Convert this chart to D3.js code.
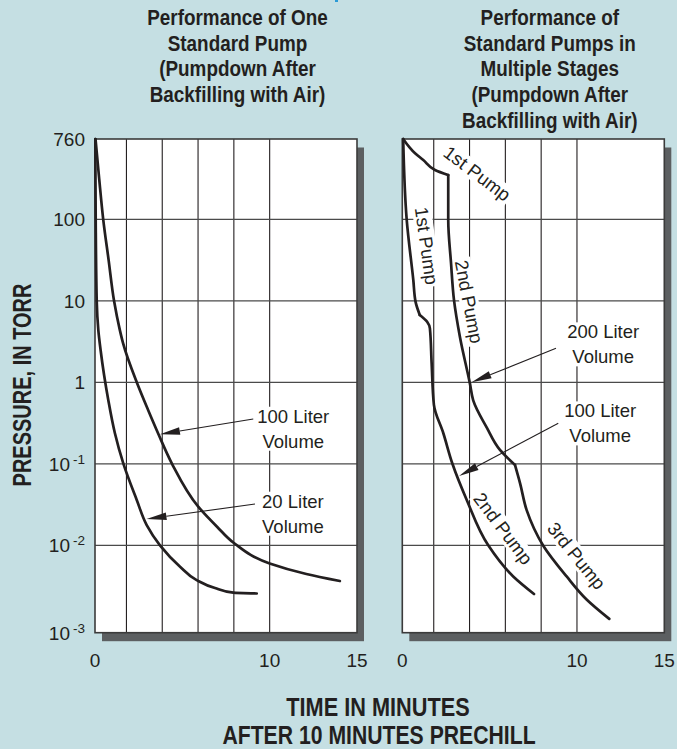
<!DOCTYPE html>
<html>
<head>
<meta charset="utf-8">
<script src="https://cdn.jsdelivr.net/npm/d3@7"></script>
<style>
  body { margin: 0; background: #c5dfe3; }
  svg { display: block; }
  text { font-family: "Liberation Sans", Arial, sans-serif; fill: #231f20; }
</style>
</head>
<body>
<svg width="677" height="749"></svg>
<script>
// ---- data ----
var timeTicks = [0, 10, 15];
var timeGrid = [1.8, 3.85, 5.9, 7.95, 10];
var pressureGrid = [100, 10, 1, 0.1, 0.01];
var pressureTicks = [760, 100, 10, 1, 0.1, 0.01, 0.001];
var pressureLabels = [["760"], ["100"], ["10"], ["1"], ["10", "-1"], ["10", "-2"], ["10", "-3"]];

var titleLeft = ["Performance of One", "Standard Pump", "(Pumpdown After", "Backfilling with Air)"];
var titleRight = ["Performance of", "Standard Pumps in", "Multiple Stages", "(Pumpdown After", "Backfilling with Air)"];

// left panel: one standard pump  [minutes, torr]
var oneStd20 = [[0.02, 760], [0.04, 100], [0.1, 9.75], [0.19, 4.38], [0.32, 2.49], [0.52, 1.23], [0.76, 0.607],
  [1.14, 0.237], [1.62, 0.101], [2.39, 0.036], [2.96, 0.0177], [3.72, 0.01], [4.87, 0.0057], [5.82, 0.004],
  [6.87, 0.00324], [7.92, 0.00287], [9.26, 0.00281]];
var oneStd100 = [[0.03, 760], [0.24, 277], [0.47, 100], [0.78, 31.6], [1.09, 10], [1.42, 4.4], [1.61, 3.0], [2.39, 1],
  [3.04, 0.457], [3.61, 0.237], [4.41, 0.1], [5.91, 0.0298], [7.0, 0.0168], [7.97, 0.0106], [10.0, 0.0062],
  [12.1, 0.0047], [14.02, 0.0039]];

// right panel: pumps in stages
var multi200Stage1 = [[0.05, 760], [0.73, 530], [1.2, 447], [1.87, 348], [2.63, 306]];
var multi200Stage2 = [[2.63, 306], [2.63, 98], [2.79, 29], [2.96, 10.2], [3.3, 3.6], [3.87, 0.97], [4.06, 0.6],
  [4.83, 0.28], [5.59, 0.148], [6.45, 0.097]];
var multi200Stage3 = [[6.45, 0.097], [6.74, 0.058], [7.12, 0.027], [8.07, 0.0099], [9.41, 0.0044], [10.55, 0.0024], [11.85, 0.00144]];
var multi100Stage1 = [[0.05, 760], [0.25, 100], [0.63, 18], [0.76, 9.7], [1.0, 6.7]];
var multi100Stage2 = [[1.0, 6.7], [1.43, 5.5], [1.58, 4.6], [1.68, 1.71], [1.81, 0.53], [2.35, 0.237], [2.87, 0.1],
  [3.69, 0.036], [4.92, 0.01], [6.35, 0.0044], [7.54, 0.00277]];

// annotations  [minutes, torr]
var leftVolumeLabels = [{at: [11.35, 0.27], lines: ["100 Liter", "Volume"]}, {at: [11.33, 0.0245], lines: ["20 Liter", "Volume"]}];
var leftArrows = [[[9.06, 0.355], [3.72, 0.23]], [[9.16, 0.0321], [2.95, 0.021]]];
var rightVolumeLabels = [{at: [11.5, 2.93], lines: ["200 Liter", "Volume"]}, {at: [11.33, 0.314], lines: ["100 Liter", "Volume"]}];
var rightArrows = [[[8.8, 2.61], [3.97, 1.0]], [[8.93, 0.314], [3.25, 0.071]]];
var pumpLabels = [
  {at: [4.29, 319], text: "1st Pump", angle: 37},
  {at: [1.4, 47.3], text: "1st Pump", angle: 82},
  {at: [3.83, 9.75], text: "2nd Pump", angle: 79},
  {at: [5.78, 0.0161], text: "2nd Pump", angle: 53},
  {at: [9.98, 0.0076], text: "3rd Pump", angle: 51}
];

// ---- layout ----
var svg = d3.select("svg");
var plotTop = 139, plotBottom = 632.7, plotW = 262;
var ink = "#231f20";

var y = d3.scaleLog()
    .domain([0.001, 0.01, 100, 760])
    .range([plotBottom, 545.3, 219.3, plotTop]);

var line = d3.line().curve(d3.curveMonotoneY);

// tiny blue fragment at the top edge
svg.append("rect").attr("x", 335).attr("y", 0).attr("width", 3).attr("height", 2).attr("fill", "#2b9ad6");

function boldText(g, cx, baseline, str, size, squeeze) {
  g.append("g")
      .attr("transform", "translate(" + cx + "," + baseline + ") scale(" + squeeze + ",1)")
    .append("text")
      .attr("text-anchor", "middle")
      .style("font-weight", "bold")
      .style("font-size", size + "px")
      .text(str);
}

function addLabel(g, px, py, lines, angle, size) {
  var lg = g.append("g").attr("transform", "translate(" + px + "," + py + ") rotate(" + angle + ")");
  var bg = lg.append("rect").attr("fill", "#fff");
  var t = lg.append("text").attr("text-anchor", "middle").style("font-size", size + "px");
  var lh = 25;
  lines.forEach(function(s, i) {
    t.append("tspan").attr("x", 0).attr("y", (i - (lines.length - 1) / 2) * lh + 6.6).text(s);
  });
  var b = t.node().getBBox();
  bg.attr("x", b.x - 2).attr("y", b.y + 1).attr("width", b.width + 4).attr("height", b.height - 2);
}

function addArrow(g, x, a) {
  var x1 = x(a[0][0]), y1 = y(a[0][1]), x2 = x(a[1][0]), y2 = y(a[1][1]);
  var ang = Math.atan2(y2 - y1, x2 - x1), len = 20, hw = 3.8;
  var bx = x2 - len * Math.cos(ang), by = y2 - len * Math.sin(ang);
  g.append("line")
      .attr("x1", x1).attr("y1", y1).attr("x2", bx).attr("y2", by)
      .attr("stroke", ink).attr("stroke-width", 1.1);
  g.append("path")
      .attr("d", "M" + x2 + "," + y2 +
        "L" + (bx - hw * Math.sin(ang)) + "," + (by + hw * Math.cos(ang)) +
        "L" + (bx + hw * Math.sin(ang)) + "," + (by - hw * Math.cos(ang)) + "Z")
      .attr("fill", ink);
}

function drawPanel(left, title, curves, volumeLabels, arrows, rotated, yLabels) {
  var x = d3.scaleLinear().domain([0, 15]).range([left, left + plotW]);
  var g = svg.append("g");

  // title
  title.forEach(function(s, i) {
    boldText(g, left + 142.5 + (left > 200 ? 5 : 0), 25 + i * 25.7, s, 22.5, 0.84);
  });

  // shadow + plot area
  g.append("rect")
      .attr("x", left + 7).attr("y", plotTop + 8.5)
      .attr("width", plotW).attr("height", plotBottom - plotTop)
      .attr("fill", "#5c5f61");
  g.append("rect")
      .attr("x", left).attr("y", plotTop)
      .attr("width", plotW).attr("height", plotBottom - plotTop)
      .attr("fill", "#fff");

  // grid
  g.selectAll(".vgrid").data(timeGrid).enter().append("line")
      .attr("x1", x).attr("x2", x)
      .attr("y1", plotTop).attr("y2", plotBottom)
      .attr("stroke", ink).attr("stroke-width", 1.1);
  g.selectAll(".hgrid").data(pressureGrid).enter().append("line")
      .attr("x1", left).attr("x2", left + plotW)
      .attr("y1", y).attr("y2", y)
      .attr("stroke", "#4a4a4a").attr("stroke-width", 1.2);

  // labels with white boxes over the grid
  volumeLabels.forEach(function(d) {
    addLabel(g, x(d.at[0]), y(d.at[1]), d.lines, 0, 18.5);
  });
  rotated.forEach(function(d) {
    addLabel(g, x(d.at[0]), y(d.at[1]), [d.text], d.angle, 18.5);
  });

  // border
  g.append("rect")
      .attr("x", left).attr("y", plotTop)
      .attr("width", plotW).attr("height", plotBottom - plotTop)
      .attr("fill", "none").attr("stroke", "#3b3b3b").attr("stroke-width", 1.6);

  // curves
  line.x(function(d) { return x(d[0]); }).y(function(d) { return y(d[1]); });
  g.selectAll(".curve").data(curves).enter().append("path")
      .attr("d", line)
      .attr("fill", "none")
      .attr("stroke", ink)
      .attr("stroke-width", 2.7)
      .attr("stroke-linejoin", "round")
      .attr("stroke-linecap", "round");

  arrows.forEach(function(a) { addArrow(g, x, a); });

  // x tick labels
  g.selectAll(".xt").data(timeTicks).enter().append("text")
      .attr("x", x).attr("y", 667)
      .attr("text-anchor", "middle")
      .style("font-size", "19px")
      .text(function(d) { return d; });

  // y tick labels
  if (yLabels) {
    pressureTicks.forEach(function(p, i) {
      var t = g.append("text")
          .attr("x", left - 10).attr("y", y(p) + 7)
          .attr("text-anchor", "end")
          .style("font-size", "19px");
      t.append("tspan").text(pressureLabels[i][0]);
      if (pressureLabels[i].length > 1) {
        t.append("tspan").attr("dx", 3).attr("dy", -7).style("font-size", "13.5px").text(pressureLabels[i][1]);
      }
    });
  }
}

drawPanel(95, titleLeft, [oneStd20, oneStd100], leftVolumeLabels, leftArrows, [], true);
drawPanel(402.3, titleRight, [multi200Stage1, multi200Stage2, multi200Stage3, multi100Stage1, multi100Stage2],
  rightVolumeLabels, rightArrows, pumpLabels, false);

// axis titles
var yt = svg.append("g").attr("transform", "translate(31,385) rotate(-90)");
boldText(yt, 0, 0, "PRESSURE, IN TORR", 25, 0.8);
boldText(svg, 378, 716, "TIME IN MINUTES", 26.5, 0.82);
boldText(svg, 379, 744, "AFTER 10 MINUTES PRECHILL", 26.5, 0.8);
</script>
</body>
</html>
